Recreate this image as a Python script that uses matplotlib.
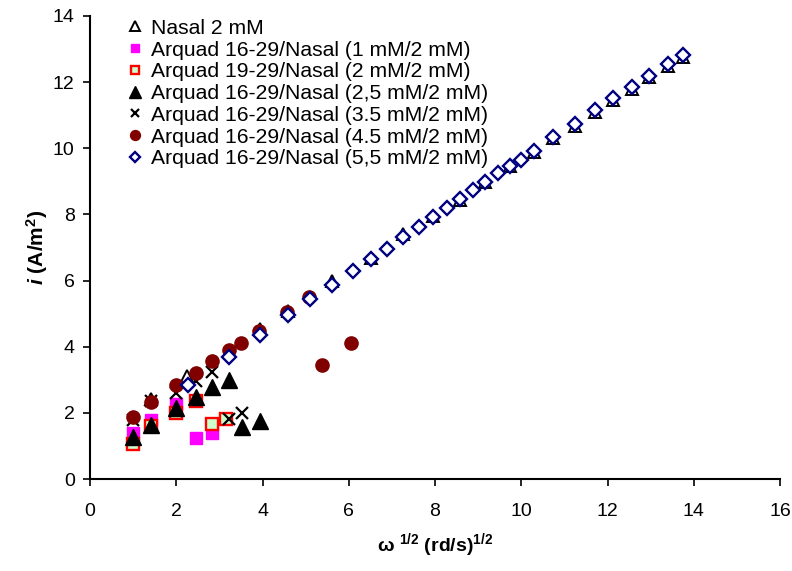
import matplotlib
matplotlib.use("Agg")
from matplotlib import pyplot as plt

plt.rcParams['font.family'] = ['Liberation Sans', 'DejaVu Sans']
plt.rcParams['mathtext.fontset'] = 'custom'
plt.rcParams['mathtext.rm'] = 'Liberation Sans:bold'
plt.rcParams['mathtext.it'] = 'Liberation Sans:italic:bold'
plt.rcParams['mathtext.bf'] = 'Liberation Sans:bold'

# Nasal 2 mM
nasal_x = [1.41, 2.24, 3.95, 4.58, 5.62, 6.51, 7.25, 7.95, 8.59, 9.16, 9.73,
           10.29, 10.74, 11.24, 11.70, 12.13, 12.56, 12.96, 13.39, 13.76]
nasal_y = [2.42, 3.12, 4.55, 5.08, 6.00, 6.68, 7.42, 7.95, 8.45, 8.97, 9.45,
           9.88, 10.30, 10.68, 11.10, 11.45, 11.80, 12.15, 12.48, 12.75]
# Arquad 16-29/Nasal (1 mM/2 mM)
a1_x = [1.0, 1.41, 2.0, 2.45, 2.83]
a1_y = [1.40, 1.80, 2.27, 1.23, 1.38]
# Arquad 19-29/Nasal (2 mM/2 mM)
a2_x = [1.0, 1.41, 2.0, 2.45, 2.83, 3.16]
a2_y = [1.05, 1.60, 2.00, 2.37, 1.65, 1.83]
# Arquad 16-29/Nasal (2,5 mM/2 mM)
a25_x = [1.0, 1.41, 2.0, 2.45, 2.83, 3.22, 3.53, 3.95]
a25_y = [1.28, 1.63, 2.14, 2.47, 2.79, 3.01, 1.56, 1.76]
# Arquad 16-29/Nasal (3.5 mM/2 mM)
a35_x = [1.0, 1.41, 2.0, 2.45, 2.83, 3.22, 3.53]
a35_y = [1.78, 2.35, 2.61, 2.97, 3.23, 1.81, 2.00]
# Arquad 16-29/Nasal (4.5 mM/2 mM)
a45_x = [1.0, 1.41, 2.0, 2.45, 2.83, 3.22, 3.49, 3.92, 4.57, 5.08, 5.39, 6.05]
a45_y = [1.88, 2.32, 2.85, 3.22, 3.58, 3.90, 4.12, 4.48, 5.04, 5.49, 3.45, 4.12]
# Arquad 16-29/Nasal (5,5 mM/2 mM)
a55_x = [2.28, 3.22, 3.95, 4.60, 5.10, 5.62, 6.10, 6.51, 6.88, 7.25, 7.62, 7.95,
         8.28, 8.59, 8.88, 9.16, 9.46, 9.73, 10.0, 10.29, 10.74, 11.24, 11.70,
         12.13, 12.56, 12.96, 13.39, 13.76]
a55_y = [2.84, 3.70, 4.36, 4.96, 5.43, 5.86, 6.30, 6.64, 6.97, 7.32, 7.61, 7.91,
         8.21, 8.46, 8.74, 8.99, 9.24, 9.46, 9.66, 9.92, 10.35, 10.73, 11.16,
         11.51, 11.86, 12.20, 12.54, 12.82]

fig = plt.figure(figsize=(7.92, 5.71), dpi=100)
ax = fig.add_axes([0.1136, 0.161, 0.8714, 0.811])

ax.plot(nasal_x, nasal_y, ls='none', marker='^', ms=9, mfc='white', mec='black', mew=1.4,
        label='Nasal 2 mM')
ax.plot(a1_x, a1_y, ls='none', marker='s', ms=8.5, mfc='#ff00ff', mec='#ff00ff',
        label='Arquad 16-29/Nasal (1 mM/2 mM)')
ax.plot(a2_x, a2_y, ls='none', marker='s', ms=8, mfc='#ccffcc', mec='red', mew=1.7,
        label='Arquad 19-29/Nasal (2 mM/2 mM)')
ax.plot(a25_x, a25_y, ls='none', marker='^', ms=11, mfc='black', mec='black',
        label='Arquad 16-29/Nasal (2,5 mM/2 mM)')
ax.plot(a35_x, a35_y, ls='none', marker='x', ms=8, mec='black', mew=1.6,
        label='Arquad 16-29/Nasal (3.5 mM/2 mM)')
ax.plot(a45_x, a45_y, ls='none', marker='o', ms=9.5, mfc='#800000', mec='#800000',
        label='Arquad 16-29/Nasal (4.5 mM/2 mM)')
ax.plot(a55_x, a55_y, ls='none', marker='D', ms=7, mfc='white', mec='#000080', mew=1.7,
        label='Arquad 16-29/Nasal (5,5 mM/2 mM)')

ax.set_xlim(0, 16)
ax.set_ylim(0, 14)
ax.set_xticks(range(0, 17, 2))
ax.set_yticks(range(0, 15, 2))
ax.tick_params(labelsize=14, length=5, width=1.2, direction='out', pad=12)
ax.tick_params(axis='y', pad=6)
for s in ['top', 'right']:
    ax.spines[s].set_visible(False)
for s in ['left', 'bottom']:
    ax.spines[s].set_linewidth(1.5)

ax.set_xlabel('ω $^{1/2}$ (rd/s)$^{1/2}$', fontsize=14, fontweight='bold', labelpad=8)
ax.set_ylabel(r'$i\ \mathrm{(A/m^2)}$', fontsize=15, labelpad=2)

ax.legend(loc='upper left', bbox_to_anchor=(0.045, 1.012), frameon=False, fontsize=15.2,
          handlelength=0.5, handletextpad=0.5, labelspacing=0.13, markerscale=0.75,
          borderaxespad=0.0)

fig.savefig('out.png', dpi=100)
